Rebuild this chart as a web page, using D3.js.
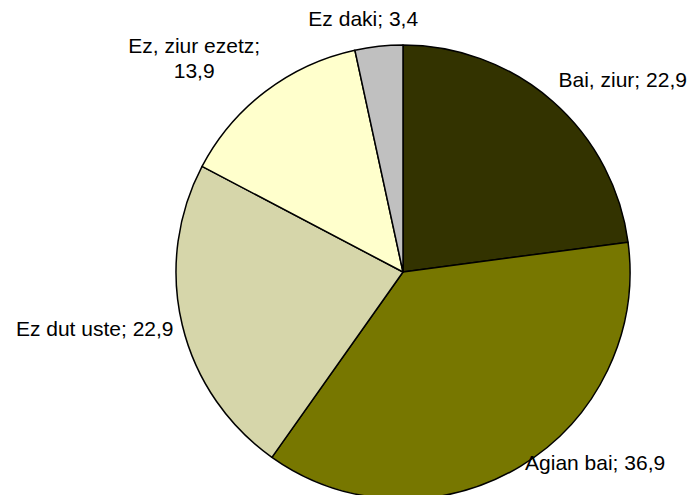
<!DOCTYPE html>
<html>
<head>
<meta charset="utf-8">
<script src="https://cdnjs.cloudflare.com/ajax/libs/d3/7.8.5/d3.min.js"></script>
<style>
  body { margin: 0; background: #fff; }
  #chart { width: 693px; height: 495px; }
</style>
</head>
<body>
<div id="chart"></div>
<script>
var categories = ['Bai, ziur', 'Agian bai', 'Ez dut uste', 'Ez, ziur ezetz', 'Ez daki'];
var values = [22.9, 36.9, 22.9, 13.9, 3.4];
var colours = ['#333300', '#777700', '#D6D6AA', '#FFFFCC', '#C0C0C0'];
// label line breaks as in the original
var labelLines = [
	['Bai, ziur; 22,9'],
	['Agian bai; 36,9'],
	['Ez dut uste; 22,9'],
	['Ez, ziur ezetz;', '13,9'],
	['Ez daki; 3,4']
];

var width = 693, height = 495;
var cx = 403, cy = 272, radius = 227;
var fontSize = 21, lineH = 25;
var bottomLimit = 478;

var svg = d3.select('#chart')
	.append('svg')
	.attr('width', width)
	.attr('height', height)
	.style('font-family', '"Liberation Sans", Arial, sans-serif');

var data = categories.map(function(c, i) {
	return { name: c, value: values[i], colour: colours[i], lines: labelLines[i] };
});

var pie = d3.pie().sort(null).value(function(d) { return d.value; });
var arc = d3.arc().innerRadius(0).outerRadius(radius);

var g = svg.append('g').attr('transform', 'translate(' + cx + ',' + cy + ')');
var arcs = pie(data);

g.selectAll('.slice').data(arcs).enter().append('path')
	.attr('class', 'slice')
	.attr('d', arc)
	.style('fill', function(d) { return d.data.colour; })
	.style('stroke', '#000')
	.style('stroke-width', 1.5)
	.style('stroke-linejoin', 'round');

// labels: box placed just outside the edge at the slice's middle angle
var labelR = radius + 9;
var labels = g.selectAll('.label').data(arcs).enter().append('text')
	.attr('class', 'label')
	.attr('text-anchor', 'middle')
	.style('font-size', fontSize + 'px')
	.style('fill', '#000');

labels.each(function(d) {
	var t = d3.select(this);
	d.data.lines.forEach(function(l, i) {
		t.append('tspan').attr('x', 0).attr('dy', i ? lineH : 0).text(l);
	});
	var w = 0;
	t.selectAll('tspan').each(function() { w = Math.max(w, this.getComputedTextLength()); });
	var h = d.data.lines.length * lineH;
	var a = (d.startAngle + d.endAngle) / 2;
	var s = Math.sin(a), c = Math.cos(a);
	var px = s * labelR, py = -c * labelR;
	var bx = px + Math.max(-1, Math.min(1, s / 0.4)) * w / 2;
	var by = py - c * (h / 2 + 4);
	// keep the label inside the chart area
	if (cy + by + h / 2 > bottomLimit) by = bottomLimit - cy - h / 2;
	var top = by - h / 2;
	t.selectAll('tspan').attr('x', bx);
	t.select('tspan').attr('y', top + fontSize * 0.82);
});
</script>
</body>
</html>
